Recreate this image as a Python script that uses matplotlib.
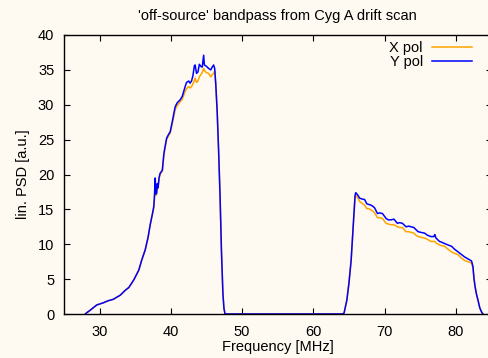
import matplotlib
matplotlib.use("Agg")
from matplotlib import pyplot as plt

plt.rcParams['font.family'] = ['Liberation Sans', 'DejaVu Sans']

# values (frequency in MHz, PSD in arbitrary units)
freq_mhz = [28.0, 28.2, 28.5, 29.0, 29.6, 30.5, 31.2, 31.9, 32.9, 33.6, 34.1, 34.8,
            35.5, 35.9, 36.4, 36.8, 37.1, 37.4, 37.6, 37.7, 37.8, 37.9, 38.0, 38.1,
            38.2, 38.35, 38.5, 38.8, 39.0, 39.1, 39.4, 39.7, 39.9, 40.2, 40.6, 40.9,
            41.3, 41.6, 42.0, 42.2, 42.5, 42.7, 42.9, 43.1, 43.3, 43.4, 43.6, 43.8,
            44.0, 44.2, 44.4, 44.6, 44.7, 45.0, 45.3, 45.6, 45.8, 46.0, 46.15, 46.3,
            46.5, 46.7, 46.9, 47.1, 47.3, 47.45, 47.6, 48.0, 64.0, 64.3, 64.7, 65.0,
            65.3, 65.5, 65.7, 65.85, 65.95, 66.2, 66.5, 66.8, 67.2, 67.5, 67.8, 68.1,
            68.4, 68.6, 69.0, 69.3, 69.7, 70.2, 70.5, 70.9, 71.3, 71.8, 72.1, 72.5,
            73.0, 73.4, 73.7, 74.1, 74.4, 74.7, 75.1, 75.6, 76.0, 76.5, 76.9, 77.05,
            77.2, 77.7, 78.0, 78.4, 78.9, 79.4, 79.8, 80.3, 80.7, 81.2, 81.7, 82.2,
            82.4, 82.55, 82.7, 82.9, 83.1, 83.35, 83.6, 83.8]

x_pol = [0.0, 0.2, 0.4, 0.8, 1.3, 1.6, 1.9, 2.1, 2.7, 3.4, 3.8, 4.9,
         6.3, 7.7, 9.2, 11.0, 12.8, 14.3, 15.2, 16.6, 18.8, 17.0, 17.2, 18.4,
         18.0, 19.4, 20.0, 20.5, 22.6, 23.3, 25.0, 25.6, 25.9, 27.3, 29.3, 29.9,
         30.4, 30.8, 31.9, 32.3, 32.6, 32.4, 32.6, 33.0, 33.5, 33.8, 33.2, 33.4,
         34.0, 34.3, 34.6, 35.2, 34.9, 34.6, 34.5, 34.0, 34.3, 34.5, 34.8, 32.8,
         29.0, 23.4, 17.0, 9.0, 3.0, 0.8, 0.0, 0.0, 0.0, 0.1, 2.0, 4.5,
         7.7, 11.0, 14.2, 16.7, 17.0, 16.7, 16.1, 15.9, 15.6, 15.1, 15.1, 14.9,
         14.7, 14.5, 13.8, 13.8, 13.7, 13.0, 12.9, 12.8, 12.8, 12.5, 12.4, 12.4,
         11.8, 11.8, 11.7, 11.6, 11.3, 11.1, 11.0, 10.9, 10.7, 10.4, 10.4, 10.4,
         10.2, 9.9, 9.8, 9.7, 9.3, 8.9, 8.7, 8.5, 8.1, 7.7, 7.5, 7.3,
         6.6, 5.0, 3.9, 2.8, 2.0, 0.9, 0.3, 0.0]

y_pol = [0.0, 0.2, 0.4, 0.8, 1.3, 1.6, 1.9, 2.1, 2.7, 3.4, 3.8, 4.9,
         6.3, 7.7, 9.2, 11.0, 12.8, 14.3, 15.4, 17.0, 19.5, 17.2, 17.3, 18.7,
         18.1, 19.6, 20.2, 20.6, 22.8, 23.5, 25.2, 25.8, 26.1, 27.6, 29.7, 30.3,
         30.7, 31.2, 32.6, 33.2, 33.4, 33.1, 33.4, 34.2, 35.6, 35.7, 34.5, 34.7,
         35.8, 35.5, 35.4, 37.1, 35.7, 35.5, 35.2, 35.0, 35.4, 35.7, 35.2, 33.0,
         29.0, 23.4, 17.0, 9.0, 3.0, 0.8, 0.0, 0.0, 0.0, 0.1, 2.0, 4.5,
         7.7, 11.0, 14.4, 17.0, 17.4, 17.1, 16.6, 16.5, 16.4, 15.8, 15.7, 15.6,
         15.4, 15.2, 14.4, 14.5, 14.4, 13.7, 13.5, 13.5, 13.6, 13.0, 13.1, 13.0,
         12.5, 12.6, 12.5, 12.4, 12.1, 11.8, 11.7, 11.6, 11.3, 11.1, 11.1, 11.4,
         10.9, 10.4, 10.3, 10.1, 9.9, 9.7, 9.3, 8.9, 8.6, 8.2, 7.9, 7.6,
         6.8, 5.0, 3.9, 2.8, 2.0, 0.9, 0.3, 0.0]

x_ticks = [30, 40, 50, 60, 70, 80]
y_ticks = [0, 5, 10, 15, 20, 25, 30, 35, 40]

bg = '#fef9f1'
fs = 10.5
fig = plt.figure(figsize=(4.88, 3.58), dpi=100, facecolor=bg)
ax = fig.add_axes([64 / 488, 44 / 358, 427.5 / 488, 279 / 358], facecolor=bg)

ax.plot(freq_mhz, x_pol, color='#ffa500', lw=1.1, label='X pol')
ax.plot(freq_mhz, y_pol, color='#0000ff', lw=1.1, label='Y pol')

ax.set_xlim(25, 85)
ax.set_ylim(0, 40)
ax.set_xticks(x_ticks)
ax.set_yticks(y_ticks)
ax.tick_params(direction='in', top=True, right=True, length=4, width=0.8,
               labelsize=fs, pad=7)
ax.tick_params(axis='x', pad=8)
for s in ax.spines.values():
    s.set_linewidth(1.0)

ax.set_title("'off-source' bandpass from Cyg A drift scan", fontsize=fs, pad=11)
ax.set_xlabel('Frequency [MHz]', fontsize=fs, labelpad=1)
ax.set_ylabel('lin. PSD [a.u.]', fontsize=fs, labelpad=6)

leg = ax.legend(loc='upper right', bbox_to_anchor=(479 / 488, 324 / 358),
                bbox_transform=fig.transFigure, frameon=False, markerfirst=False,
                fontsize=fs, handlelength=2.75, handletextpad=0.6, labelspacing=0.0,
                borderpad=0.0)

fig.savefig('out.png', dpi=100, facecolor=bg)
